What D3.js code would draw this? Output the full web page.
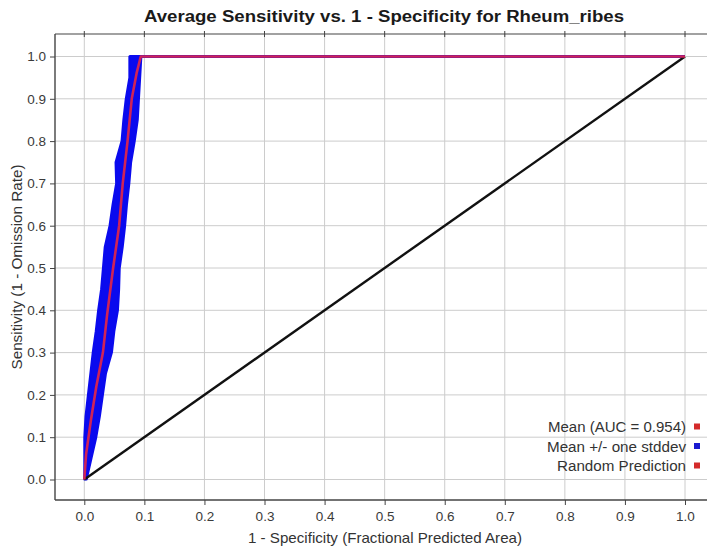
<!DOCTYPE html>
<html>
<head>
<meta charset="utf-8">
<script src="https://cdn.jsdelivr.net/npm/d3@7/dist/d3.min.js"></script>
<style>
  html, body { margin: 0; padding: 0; background: #ffffff; }
  svg { display: block; font-family: "Liberation Sans", Arial, sans-serif; }
</style>
</head>
<body>
<svg id="chart" width="708" height="546"></svg>
<script>
// Average ROC curve (mean over replicates) for Rheum_ribes
const titleText = "Average Sensitivity vs. 1 - Specificity for Rheum_ribes";
const xTitle = "1 - Specificity (Fractional Predicted Area)";
const yTitle = "Sensitivity (1 - Omission Rate)";
const tickValues = [0, 0.1, 0.2, 0.3, 0.4, 0.5, 0.6, 0.7, 0.8, 0.9, 1.0];

// mean curve: fractional predicted area vs sensitivity
const meanArea = [0, 0.003, 0.011, 0.020, 0.031, 0.038, 0.048, 0.058, 0.064, 0.072, 0.079, 0.087, 0.094, 1.0];
const meanSens = [0, 0.06, 0.14, 0.22, 0.30, 0.39, 0.50, 0.60, 0.70, 0.80, 0.90, 0.96, 1.0, 1.0];

// mean +/- one stddev band, as left/right area edges at each sensitivity level
const bandSens  = [0, 0.05, 0.10, 0.15, 0.20, 0.25, 0.30, 0.35, 0.40, 0.45, 0.50, 0.55, 0.60, 0.65, 0.70, 0.75, 0.80, 0.85, 0.90, 0.95, 1.00];
const bandLeft  = [0, 0.000, 0.000, 0.002, 0.006, 0.010, 0.014, 0.019, 0.023, 0.028, 0.031, 0.034, 0.042, 0.047, 0.053, 0.052, 0.062, 0.065, 0.069, 0.075, 0.075];
const bandRight = [0.004, 0.012, 0.020, 0.026, 0.031, 0.036, 0.046, 0.050, 0.056, 0.058, 0.059, 0.064, 0.068, 0.071, 0.075, 0.078, 0.084, 0.089, 0.091, 0.093, 0.095];

// random prediction reference line
const randomArea = [0, 1];
const randomSens = [0, 1];

const legendLabels = ["Mean (AUC = 0.954)", "Mean +/- one stddev", "Random Prediction"];
const legendColors = ["#d42a2a", "#1a1ad0", "#d42a2a"];

const meanColor = "#cf2357";
const bandColor = "#0a0aee";

const svg = d3.select("#chart");
const plot = { left: 55, right: 707, top: 34, bottom: 500 };

const x = d3.scaleLinear().domain([0, 1]).range([84.3, 685]);
const y = d3.scaleLinear().domain([0, 1]).range([479.5, 56.5]);

// grid
const grid = svg.append("g");
grid.selectAll("line.v").data(tickValues).join("line")
  .attr("x1", d => x(d)).attr("x2", d => x(d))
  .attr("y1", plot.top).attr("y2", plot.bottom)
  .attr("stroke", "#cccccc").attr("stroke-width", 1);
grid.selectAll("line.h").data(tickValues).join("line")
  .attr("x1", plot.left).attr("x2", plot.right)
  .attr("y1", d => y(d)).attr("y2", d => y(d))
  .attr("stroke", "#cccccc").attr("stroke-width", 1);

// frame top line with small ticks
svg.append("line").attr("x1", plot.left).attr("x2", plot.right)
  .attr("y1", plot.top).attr("y2", plot.top).attr("stroke", "#444").attr("stroke-width", 1.2);
svg.append("g").selectAll("line").data(tickValues).join("line")
  .attr("x1", d => x(d)).attr("x2", d => x(d))
  .attr("y1", plot.top - 3).attr("y2", plot.top + 3)
  .attr("stroke", "#444").attr("stroke-width", 1);

// axes
const xAxis = d3.axisBottom(x).tickValues(tickValues).tickFormat(d3.format(".1f")).tickSize(5).tickPadding(6);
const yAxis = d3.axisLeft(y).tickValues(tickValues).tickFormat(d3.format(".1f")).tickSize(5).tickPadding(4);

const gx = svg.append("g").attr("transform", `translate(0,${plot.bottom})`).call(xAxis);
const gy = svg.append("g").attr("transform", `translate(${plot.left},0)`).call(yAxis);
[gx, gy].forEach(g => {
  g.select(".domain").remove();
  g.selectAll(".tick line").attr("stroke", "#444");
  g.selectAll(".tick text").attr("fill", "#3a3a3a").style("font-size", "13.5px")
    .style("font-family", "'Liberation Sans', Arial, sans-serif");
});
svg.append("line").attr("x1", plot.left).attr("x2", plot.right)
  .attr("y1", plot.bottom).attr("y2", plot.bottom).attr("stroke", "#444").attr("stroke-width", 1.4);
svg.append("line").attr("x1", plot.left).attr("x2", plot.left)
  .attr("y1", plot.top).attr("y2", plot.bottom).attr("stroke", "#444").attr("stroke-width", 1.4);

// stddev band
const bandData = bandSens.map((s, i) => ({ s, l: bandLeft[i], r: bandRight[i] }));
const band = d3.area()
  .y(d => y(d.s)).x0(d => x(d.l)).x1(d => x(d.r));
svg.append("path").datum(bandData).attr("d", band)
  .attr("fill", bandColor).attr("stroke", bandColor).attr("stroke-width", 2).attr("stroke-linejoin", "round");
// both band edges run along sensitivity 1.0 after reaching it
svg.append("line").attr("x1", x(bandLeft[bandLeft.length - 1])).attr("x2", x(1))
  .attr("y1", y(1)).attr("y2", y(1)).attr("stroke", bandColor).attr("stroke-width", 3);

// random prediction line
const line = d3.line().x(d => x(d[0])).y(d => y(d[1]));
svg.append("path").datum(randomArea.map((a, i) => [a, randomSens[i]])).attr("d", line)
  .attr("fill", "none").attr("stroke", "#111").attr("stroke-width", 2.4);

// mean curve
svg.append("path").datum(meanArea.map((a, i) => [a, meanSens[i]])).attr("d", line)
  .attr("fill", "none").attr("stroke", meanColor).attr("stroke-width", 2.6).attr("stroke-linejoin", "round");

// title
svg.append("text").attr("x", 384).attr("y", 22).attr("text-anchor", "middle")
  .style("font-size", "16px").style("font-weight", "bold").attr("fill", "#1a1a1a")
  .attr("textLength", 480).attr("lengthAdjust", "spacingAndGlyphs")
  .text(titleText);

// axis titles
svg.append("text").attr("x", 385).attr("y", 543).attr("text-anchor", "middle")
  .style("font-size", "14.5px").attr("fill", "#333")
  .attr("textLength", 274).attr("lengthAdjust", "spacingAndGlyphs").text(xTitle);
svg.append("text").attr("transform", `translate(22,${(plot.top + plot.bottom) / 2}) rotate(-90)`)
  .attr("text-anchor", "middle").style("font-size", "14.5px").attr("fill", "#333")
  .attr("textLength", 205).attr("lengthAdjust", "spacingAndGlyphs").text(yTitle);

// legend
const legendWidths = [138, 139, 129];
const legend = svg.append("g");
legendLabels.forEach((lab, i) => {
  const cy = 427 + i * 19.5;
  legend.append("text").attr("x", 686).attr("y", cy + 5).attr("text-anchor", "end")
    .style("font-size", "14px").attr("fill", "#333")
    .attr("textLength", legendWidths[i]).attr("lengthAdjust", "spacingAndGlyphs").text(lab);
  legend.append("rect").attr("x", 694).attr("y", cy - 3.5).attr("width", 6).attr("height", 6)
    .attr("fill", legendColors[i]);
});
</script>
</body>
</html>
